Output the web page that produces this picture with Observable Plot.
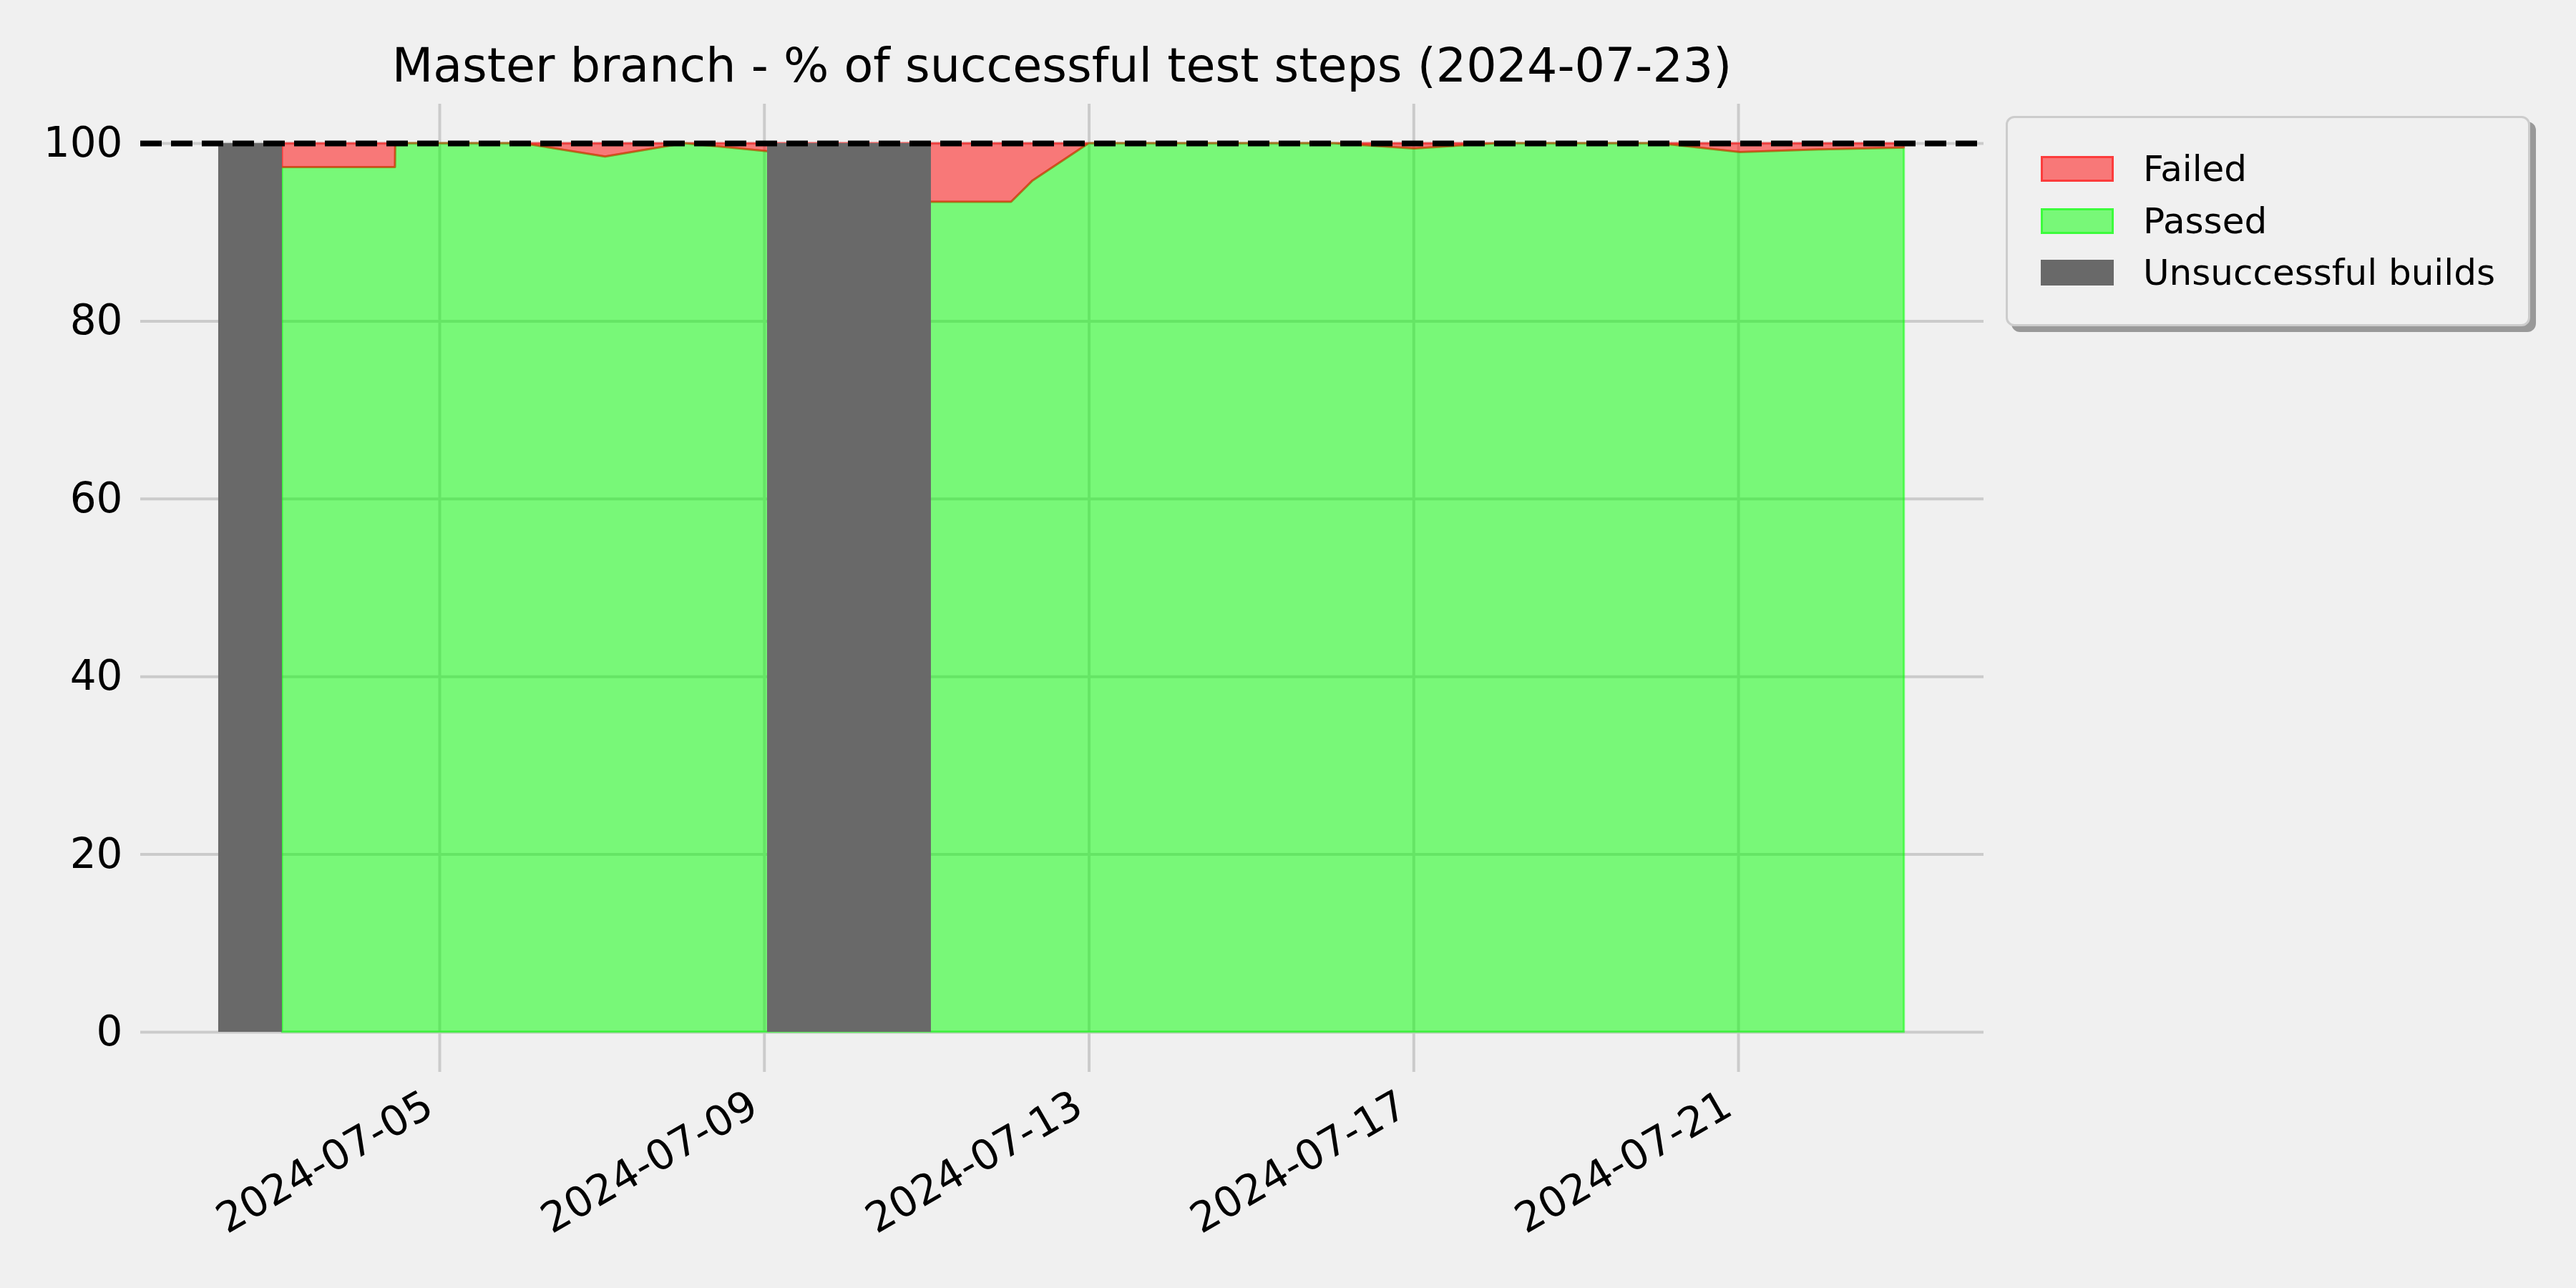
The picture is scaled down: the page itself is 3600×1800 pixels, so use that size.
<!DOCTYPE html>
<html>
<head>
<meta charset="utf-8">
<script src="https://cdn.jsdelivr.net/npm/d3@7"></script>
<script src="https://cdn.jsdelivr.net/npm/@observablehq/plot@0.6"></script>
<style>
  html, body { margin: 0; padding: 0; background: #f0f0f0; }
  #wrap { position: relative; width: 3600px; height: 1800px; background: #f0f0f0; font-family: "DejaVu Sans", sans-serif; overflow: hidden; }
  #chart { position: absolute; left: 0; top: 0; }
  #title { position: absolute; left: 196px; width: 2576px; top: 58px; text-align: center; font-size: 66.7px; line-height: 1; color: #000; white-space: nowrap; }
  #legend { position: absolute; left: 2803px; top: 162px; width: 727px; height: 288px; border: 3px solid #cccccc; border-radius: 12px; background: #f0f0f0; box-shadow: 8px 8px 0 #999999; box-sizing: content-box; }
  .row { position: absolute; left: 46px; height: 40px; display: flex; align-items: center; }
  .sw { width: 96px; height: 30px; margin-right: 41px; }
  .lbl { font-size: 50px; line-height: 1; color: #000; white-space: nowrap; }
</style>
</head>
<body>
<div id="wrap">
  <div id="chart"></div>
  <div id="title"></div>
  <div id="legend"></div>
</div>
<script>
// ---- data ----
const chartTitle = "Master branch - % of successful test steps (2024-07-23)";

const buildDates = [
  "2024-07-03T01:28Z", "2024-07-04T10:53Z", "2024-07-04T10:57Z", "2024-07-05T00:30Z",
  "2024-07-06T00:30Z", "2024-07-07T01:00Z", "2024-07-08T00:30Z", "2024-07-09T00:53Z",
  "2024-07-11T01:20Z", "2024-07-12T01:02Z", "2024-07-12T07:23Z", "2024-07-13T00:00Z",
  "2024-07-14T00:30Z", "2024-07-15T00:30Z", "2024-07-16T00:30Z", "2024-07-17T00:10Z",
  "2024-07-18T00:30Z", "2024-07-19T00:30Z", "2024-07-20T00:30Z", "2024-07-21T00:30Z",
  "2024-07-22T00:30Z", "2024-07-23T01:00Z"
];
const passedPct = [
  97.3, 97.3, 100, 100,
  100, 98.5, 100, 99.1,
  93.4, 93.4, 95.8, 100,
  100, 100, 100, 99.4,
  100, 100, 100, 99.0,
  99.3, 99.5
];
const failedPct = [
  2.7, 2.7, 0, 0,
  0, 1.5, 0, 0.9,
  6.6, 6.6, 4.2, 0,
  0, 0, 0, 0.6,
  0, 0, 0, 1.0,
  0.7, 0.5
];

const unsuccessfulStart = ["2024-07-02T06:37Z", "2024-07-09T00:53Z"];
const unsuccessfulEnd   = ["2024-07-03T01:28Z", "2024-07-11T01:20Z"];

const xTicks = ["2024-07-05", "2024-07-09", "2024-07-13", "2024-07-17", "2024-07-21"];
const yTicks = [0, 20, 40, 60, 80, 100];
const xDomain = ["2024-07-01T07:34Z", "2024-07-24T00:33Z"];
const yDomain = [-4.51, 104.43];

const legendLabels = ["Failed", "Passed", "Unsuccessful builds"];

// ---- build tables ----
const rows = buildDates.map((d, i) => ({date: new Date(d), passed: passedPct[i], failed: failedPct[i]}));
const spans = unsuccessfulStart.map((s, i) => ({start: new Date(s), end: new Date(unsuccessfulEnd[i])}));
const tickDates = xTicks.map(t => new Date(t + "T00:00Z"));
const fmt = d3.utcFormat("%Y-%m-%d");

const chart = Plot.plot({
  width: 3600,
  height: 1800,
  marginLeft: 196,
  marginRight: 828,
  marginTop: 145,
  marginBottom: 302,
  style: {background: "transparent", fontFamily: "DejaVu Sans", fontSize: "58px", color: "#000", overflow: "visible"},
  x: {type: "utc", domain: xDomain.map(d => new Date(d)), axis: null},
  y: {domain: yDomain, axis: null},
  marks: [
    Plot.gridY(yTicks, {stroke: "#cbcbcb", strokeOpacity: 1, strokeWidth: 4}),
    Plot.gridX(tickDates, {stroke: "#cbcbcb", strokeOpacity: 1, strokeWidth: 4}),
    Plot.areaY(rows, {x: "date", y1: 0, y2: "passed", fill: "lime", fillOpacity: 0.5, stroke: "lime", strokeOpacity: 0.5, strokeWidth: 3}),
    Plot.areaY(rows, {x: "date", y1: "passed", y2: d => d.passed + d.failed, fill: "red", fillOpacity: 0.5, stroke: "red", strokeOpacity: 0.5, strokeWidth: 3}),
    Plot.rectY(spans, {x1: "start", x2: "end", y1: 0, y2: 100, fill: "#696969"}),
    Plot.ruleY([100], {stroke: "#000", strokeWidth: 8, strokeDasharray: "30,13"}),
    Plot.axisY(yTicks, {anchor: "left", tickSize: 0, tickPadding: 25, fontSize: 58, label: null, fill: "#000"}),
    Plot.text(tickDates, {x: d => d, text: d => fmt(d), frameAnchor: "bottom", rotate: -30, textAnchor: "end", lineAnchor: "top", dx: -26, dy: 22, fontSize: 58, fill: "#000"})
  ]
});
document.getElementById("chart").appendChild(chart);

document.getElementById("title").textContent = chartTitle;

const legendStyles = [
  {bg: "rgba(255,0,0,0.5)", border: "3px solid rgba(255,0,0,0.5)"},
  {bg: "rgba(0,255,0,0.5)", border: "3px solid rgba(0,255,0,0.5)"},
  {bg: "#696969", border: "3px solid #696969"}
];
const legend = document.getElementById("legend");
legendLabels.forEach((lab, i) => {
  const row = document.createElement("div");
  row.className = "row";
  row.style.top = (51 + i * 72.7) + "px";
  const sw = document.createElement("div");
  sw.className = "sw";
  sw.style.background = legendStyles[i].bg;
  sw.style.border = legendStyles[i].border;
  const tx = document.createElement("span");
  tx.className = "lbl";
  tx.textContent = lab;
  row.appendChild(sw);
  row.appendChild(tx);
  legend.appendChild(row);
});
</script>
</body>
</html>
